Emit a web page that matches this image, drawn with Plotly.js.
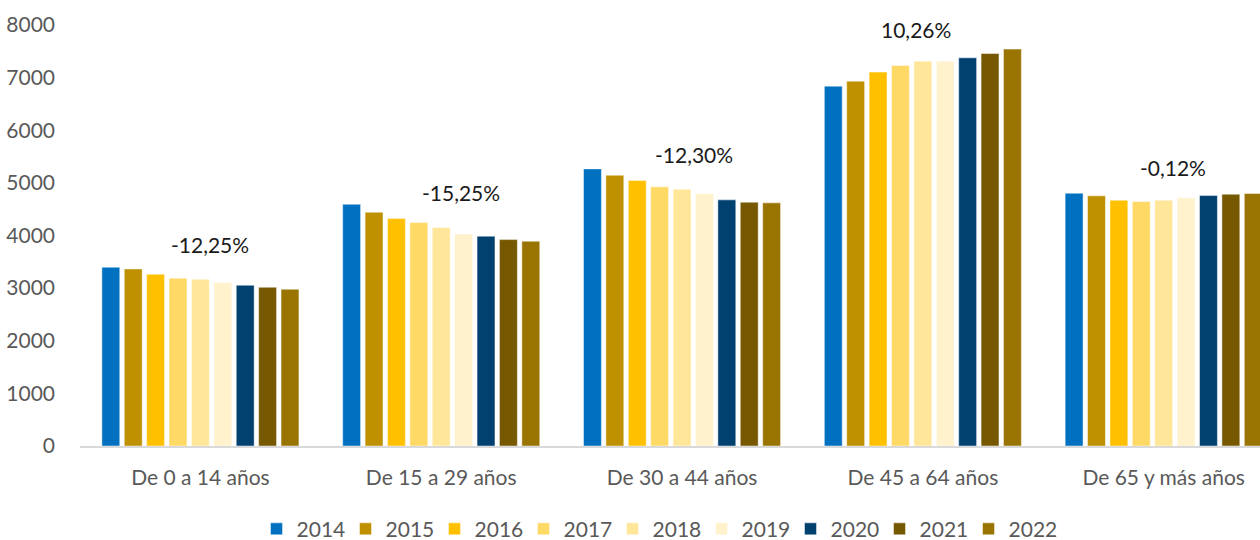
<!DOCTYPE html>
<html>
<head>
<meta charset="utf-8">
<script src="https://cdn.plot.ly/plotly-3.0.1.min.js"></script>
<style>html,body{margin:0;padding:0;background:#fff;}#chart{width:1260px;height:540px;}</style>
</head>
<body>
<div id="chart"></div>
<script>
const categories = ["De 0 a 14 años", "De 15 a 29 años", "De 30 a 44 años", "De 45 a 64 años", "De 65 y más años"];
const years = ["2014", "2015", "2016", "2017", "2018", "2019", "2020", "2021", "2022"];
const v2014 = [3397, 4595, 5266, 6838, 4804];
const v2015 = [3365, 4443, 5146, 6933, 4753];
const v2016 = [3264, 4321, 5044, 7105, 4671];
const v2017 = [3188, 4245, 4924, 7230, 4645];
const v2018 = [3169, 4150, 4880, 7313, 4671];
const v2019 = [3105, 4030, 4791, 7313, 4715];
const v2020 = [3055, 3987, 4677, 7376, 4759];
const v2021 = [3017, 3922, 4633, 7458, 4785];
const v2022 = [2979, 3892, 4620, 7542, 4798];
const changeLabels = ["-12,25%", "-15,25%", "-12,30%", "10,26%", "-0,12%"];
const labelY = [3821, 4810, 5532, 7909, 5285];
const labelShift = [10, 20, 12, -7, 9];

const seriesValues = [v2014, v2015, v2016, v2017, v2018, v2019, v2020, v2021, v2022];
const colors = ["#0070C0", "#BF9000", "#FFC000", "#FFD966", "#FFE699", "#FFF2CC", "#004170", "#765800", "#9A7400"];

const font = "Lato, 'Noto Sans', sans-serif";
const fs = 21;

const traces = years.map((y, i) => ({
  type: "bar",
  name: y,
  x: categories,
  y: seriesValues[i],
  marker: {color: colors[i], line: {color: "rgba(255,255,255,0.6)", width: 0.8}},
  hoverinfo: "x+y+name"
}));

const annotations = categories.map((c, i) => ({
  x: c, y: labelY[i], xref: "x", yref: "y",
  text: changeLabels[i], showarrow: false, xshift: labelShift[i],
  font: {family: font, size: fs, color: "#1a1a1a"},
  xanchor: "center", yanchor: "middle"
}));

const layout = {
  width: 1260, height: 540,
  margin: {l: 80, r: 0, t: 25, b: 94},
  paper_bgcolor: "#fff", plot_bgcolor: "#fff",
  barmode: "group",
  bargap: 0.163,
  bargroupgap: 0.2,
  font: {family: font, size: fs, color: "#595959"},
  xaxis: {
    type: "category",
    range: [-0.5, 4.4],
    showgrid: false, zeroline: false,
    showline: true, linecolor: "#D9D9D9", linewidth: 1.5,
    ticks: "", ticklabelstandoff: 12,
    tickfont: {family: font, size: fs, color: "#595959"},
    fixedrange: true, automargin: false
  },
  yaxis: {
    range: [0, 8000],
    dtick: 1000,
    showgrid: false, zeroline: false, showline: false,
    ticks: "", ticklabelstandoff: 24,
    tickfont: {family: font, size: fs, color: "#595959"},
    tickformat: "d",
    fixedrange: true, automargin: false
  },
  showlegend: true,
  legend: {
    orientation: "h",
    x: 0.489, xanchor: "center",
    yref: "container",
    y: 0.02, yanchor: "middle",
    font: {family: font, size: fs, color: "#595959"},
    traceorder: "normal",
    itemwidth: 30,
    entrywidth: 44, entrywidthmode: "pixels"
  },
  annotations: annotations
};

Plotly.newPlot("chart", traces, layout, {displayModeBar: false, staticPlot: true});
</script>
</body>
</html>
